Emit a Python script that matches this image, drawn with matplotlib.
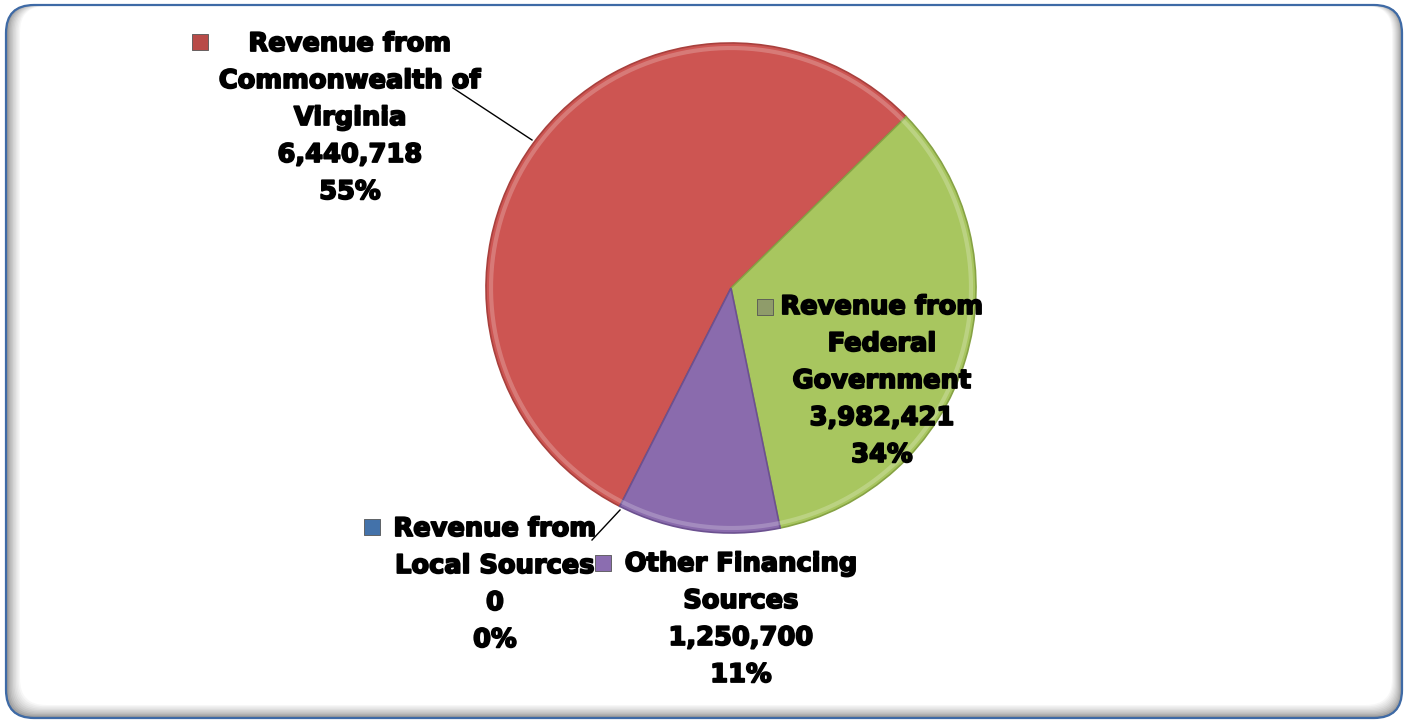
import numpy as np
import matplotlib.pyplot as plt
import matplotlib.patheffects as pe
from matplotlib.patches import FancyBboxPatch

# data, in Excel series order
names = ["Revenue from\nLocal Sources", "Revenue from\nCommonwealth of\nVirginia",
         "Revenue from\nFederal\nGovernment", "Other Financing\nSources"]
amounts = [0, 6440718, 3982421, 1250700]
colors = ["#4F81BD", "#CD5552", "#A8C65F", "#8A6BAD"]
edges = ["#3A6294", "#A8403D", "#86A244", "#6C5190"]
mark_cols = ["#4372AA", "#B84B48", "#8F9C6A", "#8B6DB0"]

W, H = 1408, 723
fig = plt.figure(figsize=(W / 100, H / 100), dpi=100)
ax = fig.add_axes([0, 0, 1, 1])

# frame: grey inner shadow on left, right and bottom, blue rounded border
x0, y0, x1, y1 = 6, 5, 1402, 718          # outer box (image px, y down)
ix0, iy0, ix1, iy1 = 20, 6, 1392, 705     # white area
n = 10
for i in range(n + 1):
    f = i / n
    g = 0.55 + 0.45 * f ** 0.7
    a0 = x0 + (ix0 - x0) * f
    a1 = x1 + (ix1 - x1) * f
    b0 = y0 + (iy0 - y0) * f
    b1 = y1 + (iy1 - y1) * f
    ax.add_patch(FancyBboxPatch((a0, H - b1), a1 - a0, b1 - b0,
                                boxstyle="round,pad=0,rounding_size=26",
                                fc=str(min(g, 1.0)) if i < n else "white",
                                ec="none", zorder=1))
ax.add_patch(FancyBboxPatch((x0, H - y1), x1 - x0, y1 - y0,
                            boxstyle="round,pad=0,rounding_size=28",
                            fc="none", ec="#3E6AA6", lw=1.6, zorder=2))

total = sum(amounts)
cx, cy, r = 731, H - 288, 245
wedges, _ = ax.pie(amounts, colors=colors, startangle=243, counterclock=False,
                   center=(cx, cy), radius=r,
                   wedgeprops=dict(lw=1.2, zorder=3))
for w, ec in zip(wedges, edges):
    w.set_edgecolor(ec)
    w.set_zorder(3)
# lighter bevel rim
for w, c in zip(wedges, colors):
    t1, t2 = w.theta1, w.theta2
    if t2 - t1 < 0.1:
        continue
    th = np.radians(np.linspace(t1 + 0.5, t2 - 0.5, 100))
    ax.plot(cx + (r - 5) * np.cos(th), cy + (r - 5) * np.sin(th),
            color="white", alpha=0.22, lw=3, zorder=4)

ax.set_xlim(0, W)
ax.set_ylim(0, H)
ax.set_aspect("equal")
ax.axis("off")

# label positions (text center x, first-line y, marker x, marker y) in pixels
lab_pos = [(495, 529, 372, 527), (350, 44, 200, 42),
           (882, 307, 765, 307), (741, 564, 603, 563)]
font = dict(family="DejaVu Sans", weight="bold", fontsize=18.5)
thick = [pe.withStroke(linewidth=1.3, foreground="black")]
for nm, v, mc, (tx, ty, mx, my) in zip(names, amounts, mark_cols, lab_pos):
    pct = 100 * v / total
    lines = nm.split("\n") + ["{:,}".format(v), "{:.0f}%".format(pct)]
    for k, ln in enumerate(lines):
        ax.text(tx, H - (ty + 37 * k), ln, ha="center", va="center",
                color="black", zorder=6, path_effects=thick, **font)
    ax.scatter([mx], [H - my], marker="s", s=120, color=mc,
               edgecolors="#555555", linewidths=0.6, zorder=6)

# leader lines
ax.plot([453, 532], [H - 88, H - 140], color="black", lw=1, zorder=5)
ax.plot([592, 620], [H - 540, H - 510], color="black", lw=1, zorder=5)

fig.savefig("out.png", dpi=100)
